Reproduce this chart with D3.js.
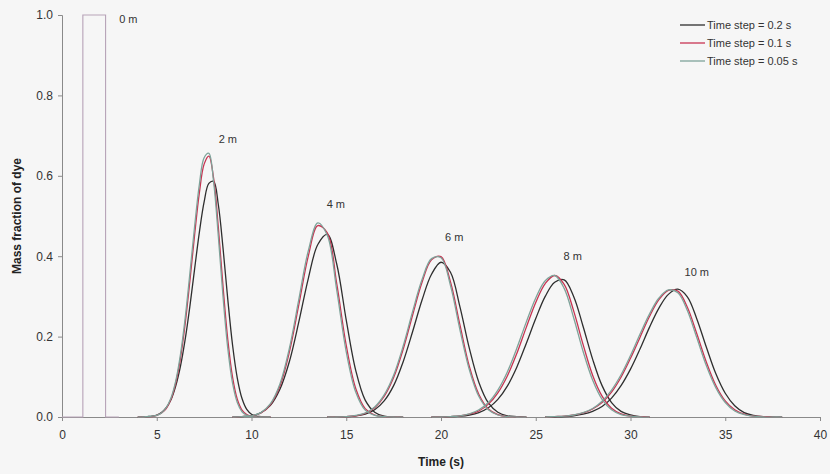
<!DOCTYPE html>
<html>
<head>
<meta charset="utf-8">
<script src="https://cdn.jsdelivr.net/npm/d3@7"></script>
<style>
  html, body { margin: 0; padding: 0; background: #f6f6f6; }
  svg { display: block; font-family: "Liberation Sans", Arial, sans-serif; }
</style>
</head>
<body>
<svg id="chart" width="830" height="474"></svg>
<script>
// Dye mass fraction at monitoring points 0-10 m, for three time-step sizes.
const seriesNames  = ["Time step = 0.2 s", "Time step = 0.1 s", "Time step = 0.05 s"];
const seriesColors = ["#2e2e2e", "#c73452", "#7ea39a"];

// Injection pulse at 0 m (same for all time steps)
const pulseTimes  = [0, 1.1, 1.1, 2.3, 2.3, 3.0];
const pulseValues = [0, 0, 1, 1, 0, 0];

// 2 m
const times2m = [4.0, 4.25, 4.5, 4.75, 5.0, 5.25, 5.5, 5.75, 6.0, 6.25, 6.5, 6.75, 7.0, 7.25, 7.5, 7.75,
                 8.0, 8.25, 8.5, 8.75, 9.0, 9.25, 9.5, 9.75, 10.0, 10.25, 10.5, 10.75, 11.0];
const dt02_2m  = [0, 0, 0.001, 0.002, 0.005, 0.011, 0.023, 0.043, 0.077, 0.126, 0.193, 0.276, 0.369, 0.460, 0.535, 0.581,
                  0.586, 0.528, 0.419, 0.292, 0.179, 0.097, 0.046, 0.019, 0.007, 0.002, 0.001, 0, 0];
const dt01_2m  = [0, 0, 0.001, 0.001, 0.004, 0.010, 0.021, 0.044, 0.084, 0.146, 0.232, 0.339, 0.454, 0.558, 0.629, 0.649,
                  0.594, 0.471, 0.323, 0.192, 0.099, 0.044, 0.017, 0.006, 0.002, 0, 0, 0, 0];
const dt005_2m = [0, 0, 0.001, 0.002, 0.004, 0.010, 0.023, 0.047, 0.089, 0.155, 0.246, 0.358, 0.475, 0.579, 0.645, 0.656,
                  0.585, 0.449, 0.298, 0.170, 0.084, 0.036, 0.013, 0.004, 0.001, 0, 0, 0, 0];

// 4 m
const times4m = [9.0, 9.5, 10.0, 10.5, 11.0, 11.5, 12.0, 12.5, 13.0, 13.5, 14.0, 14.5, 15.0, 15.5, 16.0, 16.5, 17.0, 17.5, 18.0];
const dt02_4m  = [0, 0.001, 0.003, 0.011, 0.029, 0.069, 0.138, 0.237, 0.345, 0.429, 0.454, 0.380, 0.241, 0.116, 0.042, 0.012, 0.002, 0, 0];
const dt01_4m  = [0, 0.001, 0.003, 0.010, 0.031, 0.077, 0.162, 0.280, 0.401, 0.476, 0.458, 0.331, 0.178, 0.071, 0.021, 0.005, 0.001, 0, 0];
const dt005_4m = [0, 0.001, 0.003, 0.011, 0.033, 0.082, 0.171, 0.293, 0.414, 0.483, 0.452, 0.315, 0.162, 0.062, 0.017, 0.004, 0.001, 0, 0];

// 6 m
const times6m = [14.0, 14.5, 15.0, 15.5, 16.0, 16.5, 17.0, 17.5, 18.0, 18.5, 19.0, 19.5, 20.0, 20.5, 21.0, 21.5,
                 22.0, 22.5, 23.0, 23.5, 24.0, 24.5];
const dt02_6m  = [0, 0, 0.001, 0.003, 0.007, 0.018, 0.040, 0.078, 0.137, 0.212, 0.291, 0.355, 0.385, 0.360, 0.274, 0.170,
                  0.086, 0.035, 0.012, 0.003, 0.001, 0];
const dt01_6m  = [0, 0, 0.001, 0.003, 0.009, 0.023, 0.051, 0.098, 0.168, 0.253, 0.335, 0.391, 0.399, 0.336, 0.229, 0.125,
                  0.056, 0.020, 0.006, 0.001, 0, 0];
const dt005_6m = [0, 0, 0.001, 0.004, 0.010, 0.025, 0.055, 0.104, 0.176, 0.262, 0.342, 0.394, 0.396, 0.327, 0.217, 0.117,
                  0.051, 0.018, 0.005, 0.001, 0, 0];

// 8 m
const times8m = [19.5, 20.0, 20.5, 21.0, 21.5, 22.0, 22.5, 23.0, 23.5, 24.0, 24.5, 25.0, 25.5, 26.0, 26.5, 27.0,
                 27.5, 28.0, 28.5, 29.0, 29.5, 30.0, 30.5, 31.0];
const dt02_8m  = [0, 0, 0.001, 0.002, 0.005, 0.011, 0.023, 0.044, 0.077, 0.124, 0.183, 0.245, 0.300, 0.335, 0.341, 0.300,
                  0.225, 0.144, 0.078, 0.036, 0.014, 0.005, 0.001, 0];
const dt01_8m  = [0, 0, 0.001, 0.003, 0.007, 0.015, 0.032, 0.060, 0.102, 0.158, 0.223, 0.285, 0.332, 0.352, 0.330, 0.264,
                  0.180, 0.104, 0.052, 0.022, 0.008, 0.002, 0.001, 0];
const dt005_8m = [0, 0, 0.001, 0.003, 0.008, 0.018, 0.036, 0.067, 0.112, 0.171, 0.236, 0.296, 0.339, 0.352, 0.320, 0.247,
                  0.163, 0.092, 0.044, 0.018, 0.006, 0.002, 0, 0];

// 10 m
const times10m = [25.5, 26.0, 26.5, 27.0, 27.5, 28.0, 28.5, 29.0, 29.5, 30.0, 30.5, 31.0, 31.5, 32.0, 32.5, 33.0,
                  33.5, 34.0, 34.5, 35.0, 35.5, 36.0, 36.5, 37.0, 37.5, 38.0];
const dt02_10m  = [0, 0, 0.001, 0.003, 0.007, 0.014, 0.026, 0.047, 0.078, 0.119, 0.169, 0.223, 0.271, 0.305, 0.318, 0.299,
                   0.244, 0.174, 0.108, 0.059, 0.028, 0.011, 0.004, 0.001, 0, 0];
const dt01_10m  = [0, 0.001, 0.002, 0.005, 0.010, 0.020, 0.036, 0.062, 0.099, 0.146, 0.198, 0.250, 0.292, 0.315, 0.313, 0.273,
                   0.207, 0.137, 0.079, 0.040, 0.018, 0.007, 0.002, 0.001, 0, 0];
const dt005_10m = [0, 0.001, 0.002, 0.005, 0.011, 0.021, 0.039, 0.067, 0.105, 0.153, 0.206, 0.256, 0.296, 0.316, 0.309, 0.265,
                   0.197, 0.128, 0.073, 0.036, 0.015, 0.006, 0.002, 0, 0, 0];

// Distance labels and where they sit (data units)
const locationLabels = ["0 m", "2 m", "4 m", "6 m", "8 m", "10 m"];
const labelTimes     = [3.5, 8.75, 14.45, 20.7, 26.95, 33.5];
const labelValues    = [0.99, 0.69, 0.53, 0.448, 0.40, 0.36];

const xTicks = [0, 5, 10, 15, 20, 25, 30, 35, 40];
const yTicks = [0, 0.2, 0.4, 0.6, 0.8, 1.0];

// Curves grouped per time step
const curves = [
  [[times2m, dt02_2m],  [times4m, dt02_4m],  [times6m, dt02_6m],  [times8m, dt02_8m],  [times10m, dt02_10m]],
  [[times2m, dt01_2m],  [times4m, dt01_4m],  [times6m, dt01_6m],  [times8m, dt01_8m],  [times10m, dt01_10m]],
  [[times2m, dt005_2m], [times4m, dt005_4m], [times6m, dt005_6m], [times8m, dt005_8m], [times10m, dt005_10m]]
];

const svg = d3.select("#chart");
const x = d3.scaleLinear().domain([0, 40]).range([62, 820]);
const y = d3.scaleLinear().domain([0, 1]).range([417, 15]);

const axisColor = "#8a8a8a";
const textColor = "#333";

// Axes
const xAxis = svg.append("g").attr("transform", `translate(0,${y(0)})`)
  .call(d3.axisBottom(x).tickValues(xTicks).tickFormat(d3.format("d")).tickSize(4).tickPadding(9));
const yAxis = svg.append("g").attr("transform", `translate(${x(0)},0)`)
  .call(d3.axisLeft(y).tickValues(yTicks).tickFormat(d3.format(".1f")).tickSize(4).tickPadding(5));
[xAxis, yAxis].forEach(g => {
  g.select(".domain").attr("stroke", axisColor).attr("stroke-width", 1);
  g.selectAll(".tick line").attr("stroke", axisColor);
  g.selectAll(".tick text").attr("fill", textColor).style("font-size", "12px")
    .style("font-family", "'Liberation Sans', Arial, sans-serif");
});

svg.append("text")
  .attr("x", 441).attr("y", 466).attr("text-anchor", "middle")
  .style("font-size", "12px").style("font-weight", "bold").attr("fill", "#222")
  .text("Time (s)");
svg.append("text")
  .attr("transform", `translate(21,216) rotate(-90)`).attr("text-anchor", "middle")
  .style("font-size", "12px").style("font-weight", "bold").attr("fill", "#222")
  .text("Mass fraction of dye");

// Injection pulse (all three time steps coincide)
const line = d3.line().x(d => x(d[0])).y(d => y(d[1]));
svg.append("path")
  .datum(pulseTimes.map((t, i) => [t, pulseValues[i]]))
  .attr("d", line).attr("fill", "none")
  .attr("stroke", "#b7a3b8").attr("stroke-width", 1.1);

// Breakthrough curves
const smooth = d3.line().x(d => x(d[0])).y(d => y(Math.max(0, d[1]))).curve(d3.curveCatmullRom.alpha(0.5));
curves.forEach((group, s) => {
  group.forEach(([ts, vs]) => {
    svg.append("path")
      .datum(ts.map((t, i) => [t, vs[i]]))
      .attr("d", smooth).attr("fill", "none")
      .attr("stroke", seriesColors[s]).attr("stroke-width", 1.3);
  });
});

// Distance labels
svg.selectAll("text.loc").data(locationLabels).join("text")
  .attr("class", "loc")
  .attr("x", (d, i) => x(labelTimes[i])).attr("y", (d, i) => y(labelValues[i]))
  .attr("dy", "0.35em").attr("text-anchor", "middle")
  .style("font-size", "11px").attr("fill", textColor)
  .text(d => d);

// Legend
const legend = svg.append("g").attr("transform", "translate(680,25)");
seriesNames.forEach((name, i) => {
  const row = legend.append("g").attr("transform", `translate(0,${i * 18})`);
  row.append("line").attr("x1", 0).attr("x2", 25).attr("y1", 0).attr("y2", 0)
    .attr("stroke", seriesColors[i]).attr("stroke-width", 1.3);
  row.append("text").attr("x", 27).attr("y", 0).attr("dy", "0.35em")
    .style("font-size", "11px").attr("fill", textColor).text(name);
});
</script>
</body>
</html>
